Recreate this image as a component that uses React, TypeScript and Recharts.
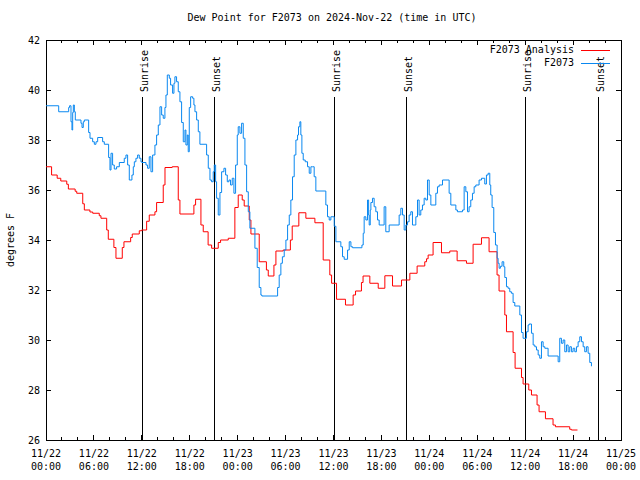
import React from 'react'
import { LineChart, Line, XAxis, YAxis, ReferenceArea, ReferenceLine, Legend, Label } from 'recharts'

// hours since 11/22 00:00 UTC, dew point in F
const analysisSeries: [number, number][] = [
  [0, 36.93], [0.7, 36.6], [1.4, 36.47], [1.85, 36.36], [2.6, 36.23], [2.8, 36.04], [3.65, 35.95], [3.85, 35.87],
  [4.6, 35.45], [4.8, 35.2], [5.5, 35.12], [5.85, 35.07], [6.67, 34.97], [6.88, 34.87], [7.6, 34.4], [7.8, 34.03],
  [8.5, 33.7], [8.76, 33.27], [9.55, 33.7], [9.76, 33.93], [10.6, 34.1], [10.8, 34.24], [11.68, 34.37], [11.97, 34.4],
  [12.6, 34.75], [12.93, 35.0], [13.64, 35.13], [13.85, 35.5], [14.68, 36.2], [14.9, 36.9], [15.8, 36.93], [16.56, 35.6],
  [16.77, 35.04], [18.52, 35.4], [18.73, 35.63], [19.4, 34.6], [19.69, 34.33], [20.3, 33.8], [20.74, 33.67], [21.57, 33.9],
  [21.86, 34.0], [22.82, 34.07], [23.65, 35.3], [24.07, 35.8], [24.57, 35.6], [24.82, 35.36], [25.45, 34.8], [25.66, 34.24],
  [26.7, 33.13], [27.6, 32.8], [27.83, 32.56], [28.54, 33.0], [28.79, 33.56], [29.7, 33.6], [30.6, 34.0], [30.83, 34.56],
  [31.66, 35.09], [32.54, 34.87], [33.67, 34.69], [34.71, 33.2], [35.54, 32.6], [35.76, 32.27], [36.38, 31.63], [37.5, 31.4],
  [38.46, 31.8], [38.76, 31.96], [39.5, 32.3], [39.7, 32.56], [40.55, 32.27], [41.6, 32.07], [42.43, 32.57], [43.39, 32.16],
  [44.52, 32.4], [45.56, 32.67], [46.47, 32.96], [47.43, 33.13], [47.65, 33.25], [47.85, 33.4], [48.47, 33.9], [49.52, 33.49],
  [50.56, 33.56], [51.48, 33.17], [52.65, 33.07], [53.48, 33.83], [54.53, 34.09], [55.48, 33.53], [56.48, 32.6], [56.73, 31.96],
  [57.45, 31.0], [57.66, 30.33], [58.49, 29.5], [58.74, 28.87], [59.54, 28.5], [59.74, 28.24], [60.45, 28.0], [60.79, 27.8],
  [61.49, 27.4], [61.74, 27.13], [62.54, 26.85], [63.49, 26.6], [63.79, 26.53], [65.58, 26.43], [65.79, 26.4], [66.55, 26.4],
]

const stationSeries: [number, number][] = [
  [0, 39.37], [1.59, 39.13], [2.84, 39.3], [2.95, 39.37], [3.13, 38.73], [3.25, 38.4], [3.34, 39.1], [3.42, 39.4],
  [3.55, 39.13], [3.67, 38.8], [4.38, 38.67], [4.51, 38.5], [4.67, 38.73], [4.8, 38.8], [5.34, 38.3], [5.51, 38.07],
  [5.84, 37.93], [6.05, 37.83], [6.26, 37.93], [6.47, 38.1], [7.09, 37.93], [7.3, 37.83], [7.84, 37.3], [8.01, 36.8],
  [8.14, 37.47], [8.34, 37.0], [8.55, 36.84], [8.84, 36.93], [9.18, 37.1], [9.8, 37.27], [10.01, 37.4], [10.22, 37.0],
  [10.43, 36.4], [10.76, 36.6], [10.93, 36.93], [11.06, 37.13], [11.26, 37.27], [11.47, 37.4], [11.68, 37.27], [11.89, 37.13],
  [12.01, 37.1], [12.52, 37.0], [12.72, 36.87], [12.93, 37.33], [13.14, 36.73], [13.35, 37.4], [13.64, 37.8], [13.85, 38.2],
  [14.06, 38.6], [14.27, 39.33], [14.48, 39.0], [14.68, 38.87], [14.89, 39.3], [15.02, 39.8], [15.19, 40.6], [15.44, 40.47],
  [15.6, 40.2], [15.85, 39.87], [16.02, 40.27], [16.14, 40.53], [16.35, 40.33], [16.56, 39.93], [16.77, 39.53], [16.98, 38.7],
  [17.19, 37.93], [17.4, 38.4], [17.52, 37.8], [17.69, 38.2], [17.81, 37.53], [17.94, 39.3], [18.11, 39.73], [18.36, 39.67],
  [18.52, 39.4], [18.65, 39.13], [18.86, 38.8], [19.07, 38.33], [19.27, 37.83], [20.11, 37.4], [20.32, 36.87], [20.53, 36.4],
  [20.73, 36.33], [20.94, 36.73], [21.07, 37.0], [21.24, 36.33], [21.36, 35.67], [21.57, 35.0], [21.78, 35.9], [21.99, 36.73],
  [22.28, 36.87], [22.49, 36.6], [22.7, 36.33], [22.91, 36.4], [23.11, 36.2], [23.32, 36.47], [23.53, 35.87], [23.74, 37.0],
  [23.95, 38.2], [24.07, 38.53], [24.28, 38.27], [24.49, 38.67], [24.7, 38.07], [24.91, 37.0], [25.12, 35.93], [25.33, 35.13],
  [25.53, 34.47], [26.16, 33.67], [26.45, 32.9], [26.7, 32.1], [26.91, 31.8], [27.03, 31.76], [29.0, 32.1], [29.2, 32.6],
  [29.41, 33.07], [29.6, 33.33], [29.83, 33.6], [30.04, 34.0], [30.25, 34.6], [30.46, 35.0], [30.66, 35.6], [30.87, 36.53],
  [31.08, 37.4], [31.29, 38.0], [31.5, 38.2], [31.62, 38.53], [31.79, 38.73], [31.91, 38.2], [32.04, 37.47], [32.21, 37.2],
  [32.46, 37.13], [32.75, 36.93], [32.96, 36.67], [33.17, 36.93], [33.38, 36.93], [33.58, 36.53], [33.79, 35.96], [35.04, 35.4],
  [35.25, 34.93], [35.46, 34.8], [35.67, 34.93], [36.09, 34.55], [36.3, 33.93], [36.92, 33.73], [37.13, 33.33], [37.34, 33.23],
  [37.76, 33.6], [37.97, 33.93], [38.18, 33.73], [38.39, 33.69], [39.56, 33.8], [39.72, 34.27], [39.84, 34.93], [40.05, 34.8],
  [40.26, 35.6], [40.4, 35.0], [40.47, 34.6], [40.6, 35.2], [40.68, 35.5], [40.88, 35.67], [41.09, 35.33], [41.3, 35.13],
  [41.51, 34.8], [41.72, 34.6], [42.34, 35.33], [42.55, 34.33], [42.97, 34.6], [44.22, 35.0], [44.43, 35.27], [44.64, 35.0],
  [44.85, 34.4], [45.06, 34.6], [45.27, 34.73], [45.47, 35.0], [45.68, 35.13], [45.89, 34.6], [46.1, 34.6], [46.31, 34.93],
  [46.52, 35.6], [46.72, 35.0], [46.93, 35.2], [47.14, 35.4], [47.35, 35.67], [47.56, 35.6], [47.77, 36.4], [47.98, 35.8],
  [48.19, 35.4], [48.81, 35.87], [49.02, 36.13], [49.23, 36.2], [49.65, 36.4], [50.48, 35.87], [50.69, 35.4], [51.32, 35.2],
  [51.52, 35.13], [52.15, 35.2], [52.36, 36.13], [52.57, 35.93], [52.78, 35.13], [52.98, 35.33], [53.19, 35.6], [53.4, 35.87],
  [53.61, 36.13], [53.82, 36.2], [54.23, 36.4], [54.53, 36.47], [54.94, 36.24], [55.15, 36.6], [55.36, 36.67], [55.57, 36.2],
  [55.69, 35.8], [55.86, 35.3], [56.07, 34.3], [56.28, 33.8], [56.49, 33.27], [56.61, 33.07], [56.74, 32.87], [56.9, 32.95],
  [57.11, 33.13], [57.32, 32.93], [57.45, 32.5], [57.66, 32.13], [57.86, 32.07], [58.07, 31.93], [58.28, 31.87], [58.49, 31.5],
  [58.7, 31.36], [59.33, 31.0], [59.54, 30.3], [59.74, 30.07], [60.16, 30.33], [60.37, 30.6], [60.5, 30.64], [60.79, 30.27],
  [61.0, 29.8], [61.21, 29.73], [61.42, 29.6], [61.63, 29.4], [61.83, 29.27], [62.04, 29.93], [62.25, 29.73], [62.46, 29.67],
  [62.87, 29.36], [64.13, 29.13], [64.33, 30.07], [64.54, 29.87], [64.75, 30.0], [64.96, 29.53], [65.17, 29.8], [65.38, 29.53],
  [65.58, 29.73], [65.79, 29.53], [66.0, 29.67], [66.21, 29.53], [66.42, 29.73], [66.63, 29.93], [66.84, 30.13], [67.05, 29.93],
  [67.26, 29.73], [67.46, 29.53], [67.67, 29.73], [67.88, 29.47], [68.09, 29.1], [68.3, 28.95],
]

const sunriseHours = [12.05, 36.08, 60.0]
const sunsetHours = [21.15, 45.1, 69.15]

const seriesNames = ['F2073 Analysis', 'F2073']

const hourTicks = [0, 2, 4, 6, 8, 10, 12, 14, 16, 18, 20, 22, 24, 26, 28, 30, 32, 34, 36, 38, 40, 42, 44, 46, 48, 50, 52, 54, 56, 58, 60, 62, 64, 66, 68, 70, 72]
const dateLabels = ['11/22', '11/22', '11/22', '11/22', '11/23', '11/23', '11/23', '11/23', '11/24', '11/24', '11/24', '11/24', '11/25']
const timeLabels = ['00:00', '06:00', '12:00', '18:00', '00:00', '06:00', '12:00', '18:00', '00:00', '06:00', '12:00', '18:00', '00:00']
const tempTicks = [26, 28, 30, 32, 34, 36, 38, 40, 42]

const TOP = 40
const BOTTOM = 440
const LEFT = 46
const RIGHT = 621
const FONT = '"DejaVu Sans Mono", monospace'
const RED = '#ff0000'
const BLUE = '#0a88f0'

const analysisData = analysisSeries.map(([h, t]) => ({ h, t }))
const stationData = stationSeries.map(([h, t]) => ({ h, t }))

const XTick = (props: any) => {
  const { x, payload } = props
  const h = payload.value
  const major = h % 6 === 0
  const len = major ? 5 : 3
  return (
    <g>
      <line x1={x} x2={x} y1={BOTTOM} y2={BOTTOM - len} stroke="#000" shapeRendering="crispEdges" />
      <line x1={x} x2={x} y1={TOP} y2={TOP + len} stroke="#000" shapeRendering="crispEdges" />
      {major && (
        <text x={x} y={BOTTOM + 17} textAnchor="middle" fontFamily={FONT} fontSize={10} fill="#000">
          <tspan x={x}>{dateLabels[h / 6]}</tspan>
          <tspan x={x} dy={13}>{timeLabels[h / 6]}</tspan>
        </text>
      )}
    </g>
  )
}

const YTick = (props: any) => {
  const { y, payload } = props
  return (
    <g>
      <line x1={LEFT} x2={LEFT + 5} y1={y} y2={y} stroke="#000" shapeRendering="crispEdges" />
      <line x1={RIGHT} x2={RIGHT - 5} y1={y} y2={y} stroke="#000" shapeRendering="crispEdges" />
      <text x={LEFT - 6} y={y} dy="0.35em" textAnchor="end" fontFamily={FONT} fontSize={10} fill="#000">
        {payload.value}
      </text>
    </g>
  )
}

const sunShape = (label: string) => (p: any) => {
  const x = p.x1
  const tx = x + 5.5
  const ty = TOP + 52
  return (
    <g>
      <line x1={x} x2={x} y1={Math.max(p.y1, p.y2)} y2={TOP + 57} stroke="#000" shapeRendering="crispEdges" />
      <text x={tx} y={ty} transform={`rotate(-90, ${tx}, ${ty})`} fontFamily={FONT} fontSize={10} fill="#000">
        {label}
      </text>
    </g>
  )
}

const renderLegend = (props: any) => {
  const items = [...props.payload].sort((a: any, b: any) => seriesNames.indexOf(a.value) - seriesNames.indexOf(b.value))
  return (
    <div style={{ position: 'relative', width: 640, height: 0, fontFamily: FONT, fontSize: 10 }}>
      {items.map((item: any, i: number) => (
        <div key={item.value}>
          <div style={{ position: 'absolute', right: 640 - 574, top: 44 + i * 12.5, lineHeight: '12px', whiteSpace: 'nowrap' }}>{item.value}</div>
          <div style={{ position: 'absolute', left: 581, width: 29, top: 50 + i * 12.5, height: 1, background: item.color }} />
        </div>
      ))}
    </div>
  )
}

export default function App() {
  return (
    <div style={{ position: 'absolute', left: 0, top: 0, width: 640, height: 480, background: '#fff' }}>
      <LineChart width={640} height={480} margin={{ top: TOP, right: 640 - RIGHT, bottom: 0, left: 0 }}>
        <XAxis type="number" dataKey="h" domain={[0, 72]} ticks={hourTicks} interval={0} height={40}
          axisLine={false} tickLine={false} tick={XTick} allowDataOverflow />
        <YAxis type="number" domain={[26, 42]} ticks={tempTicks} width={LEFT} interval={0}
          axisLine={false} tickLine={false} tick={YTick} allowDataOverflow>
          <Label content={({ viewBox }: any) => {
            const cx = viewBox.x + 10
            const cy = viewBox.y + viewBox.height / 2
            return (
              <text x={cx} y={cy} transform={`rotate(-90, ${cx}, ${cy})`} textAnchor="middle" dominantBaseline="central"
                fontFamily={FONT} fontSize={10} fill="#000">degrees F</text>
            )
          }} />
        </YAxis>
        <ReferenceArea x1={0} x2={72} y1={26} y2={42} fill="none" stroke="#000" strokeWidth={1} fillOpacity={0} shapeRendering="crispEdges" />
        {sunriseHours.map(h => (
          <ReferenceLine key={'r' + h} x={h} shape={sunShape('Sunrise')} />
        ))}
        {sunsetHours.map(h => (
          <ReferenceLine key={'s' + h} x={h} shape={sunShape('Sunset')} />
        ))}
        <Line data={analysisData} dataKey="t" name={seriesNames[0]} type="stepAfter" stroke={RED} strokeWidth={1}
          dot={false} activeDot={false} isAnimationActive={false} />
        <Line data={stationData} dataKey="t" name={seriesNames[1]} type="stepAfter" stroke={BLUE} strokeWidth={1}
          dot={false} activeDot={false} isAnimationActive={false} />
        <Legend layout="horizontal" verticalAlign="middle" align="center" content={renderLegend}
          wrapperStyle={{ position: 'absolute', top: 0, left: 0, width: 640, height: 0 }} />
      </LineChart>
      <div style={{ position: 'absolute', left: 0, top: 12, width: 664, textAlign: 'center', fontFamily: FONT, fontSize: 10, lineHeight: '12px' }}>
        Dew Point for F2073 on 2024-Nov-22 (time in UTC)
      </div>
    </div>
  )
}
